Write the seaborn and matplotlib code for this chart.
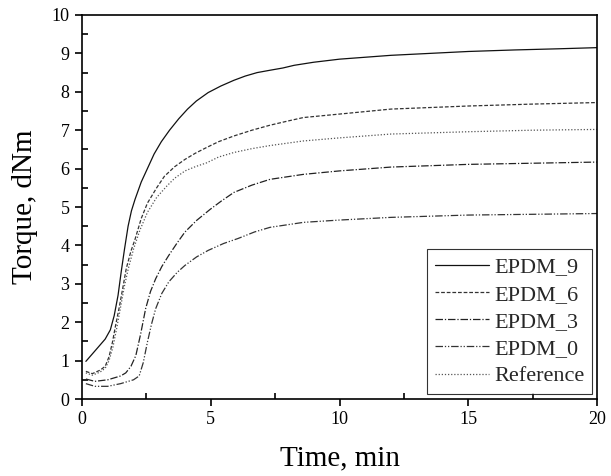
import numpy as np
import pandas as pd
import matplotlib
matplotlib.use("Agg")
import matplotlib.pyplot as plt
import seaborn as sns
from matplotlib.ticker import MultipleLocator

sns.set_theme(style="white")
plt.rcParams['font.family'] = ['Liberation Serif', 'DejaVu Serif']

t9 = [0.15, 0.5, 0.9, 1.1, 1.25, 1.4, 1.52, 1.65, 1.79, 1.92, 2.06, 2.3, 2.54, 2.8, 3.08, 3.4, 3.76, 4.1, 4.44, 4.9, 5.39, 5.9, 6.34, 6.8, 7.29, 7.8, 8.24, 9.0, 10.0, 11.0, 12.0, 13.5, 15.0, 16.8, 18.5, 20.0]
y9 = [0.98, 1.25, 1.56, 1.8, 2.17, 2.7, 3.3, 3.9, 4.5, 4.9, 5.2, 5.65, 6.0, 6.38, 6.7, 7.0, 7.3, 7.55, 7.76, 7.98, 8.15, 8.3, 8.41, 8.5, 8.56, 8.62, 8.69, 8.77, 8.85, 8.9, 8.95, 9.0, 9.05, 9.09, 9.12, 9.15]

t6 = [0.15, 0.4, 0.7, 0.9, 1.05, 1.18, 1.3, 1.45, 1.6, 1.72, 1.9, 2.06, 2.3, 2.54, 2.9, 3.2, 3.6, 4.0, 4.4, 4.84, 5.3, 5.9, 6.6, 7.3, 8.0, 8.6, 10.0, 12.0, 15.0, 17.5, 20.0]
y6 = [0.72, 0.66, 0.75, 0.85, 1.1, 1.47, 1.9, 2.4, 2.95, 3.4, 3.85, 4.16, 4.7, 5.1, 5.5, 5.8, 6.05, 6.24, 6.4, 6.55, 6.7, 6.85, 7.0, 7.13, 7.24, 7.33, 7.42, 7.55, 7.63, 7.68, 7.72]

tr = [0.15, 0.4, 0.7, 0.9, 1.05, 1.2, 1.35, 1.5, 1.65, 1.8, 2.0, 2.25, 2.54, 2.9, 3.3, 3.6, 4.0, 4.4, 4.84, 5.3, 5.9, 6.6, 7.3, 8.6, 10.0, 12.0, 15.0, 17.5, 20.0]
yr = [0.68, 0.62, 0.7, 0.8, 1.0, 1.35, 1.85, 2.4, 2.95, 3.4, 3.9, 4.4, 4.86, 5.25, 5.55, 5.75, 5.94, 6.05, 6.15, 6.3, 6.42, 6.52, 6.6, 6.72, 6.8, 6.9, 6.96, 7.0, 7.02]

t3 = [0.15, 0.5, 1.0, 1.5, 1.7, 1.9, 2.09, 2.28, 2.47, 2.66, 2.86, 3.1, 3.37, 3.7, 4.0, 4.45, 4.98, 5.4, 5.9, 6.6, 7.3, 8.6, 10.0, 12.0, 15.0, 17.5, 20.0]
y3 = [0.52, 0.46, 0.5, 0.6, 0.68, 0.85, 1.13, 1.7, 2.35, 2.8, 3.13, 3.45, 3.74, 4.07, 4.35, 4.65, 4.94, 5.15, 5.38, 5.57, 5.72, 5.85, 5.94, 6.04, 6.11, 6.14, 6.17]

t0 = [0.15, 0.5, 1.0, 1.5, 2.0, 2.22, 2.38, 2.54, 2.7, 2.86, 3.1, 3.37, 3.7, 4.0, 4.45, 4.9, 5.5, 6.06, 6.7, 7.3, 8.6, 10.0, 12.0, 15.0, 17.5, 20.0]
y0 = [0.4, 0.33, 0.33, 0.4, 0.5, 0.6, 0.95, 1.48, 1.95, 2.35, 2.75, 3.05, 3.3, 3.48, 3.7, 3.87, 4.05, 4.18, 4.35, 4.47, 4.6, 4.66, 4.73, 4.79, 4.81, 4.83]

names = ["EPDM_9", "EPDM_6", "EPDM_3", "EPDM_0", "Reference"]
series = {"EPDM_9": (t9, y9), "EPDM_6": (t6, y6), "EPDM_3": (t3, y3),
          "EPDM_0": (t0, y0), "Reference": (tr, yr)}

df = pd.concat([pd.DataFrame({"time": s[0], "torque": s[1], "sample": n})
                for n, s in series.items()], ignore_index=True)

dashes = {"EPDM_9": "", "EPDM_6": (3, 1.5), "EPDM_3": (6, 1.5, 1, 1.5),
          "EPDM_0": (6, 1.5, 1, 1.5, 1, 1.5), "Reference": (1, 1.5)}
palette = {"EPDM_9": "#111111", "EPDM_6": "#333333", "EPDM_3": "#222222",
           "EPDM_0": "#333333", "Reference": "#555555"}

fig = plt.figure(figsize=(6.11, 4.76), dpi=100)
ax = fig.add_axes([82/611, 1 - 399/476, (597-82)/611, (399-15)/476])

sns.lineplot(data=df, x="time", y="torque", hue="sample", style="sample",
             hue_order=names, style_order=names, dashes=dashes, palette=palette,
             linewidth=0.9, ax=ax, sort=True, estimator=None)

ax.set_xlim(0, 20)
ax.set_ylim(0, 10)
ax.xaxis.set_major_locator(MultipleLocator(5))
ax.xaxis.set_minor_locator(MultipleLocator(2.5))
ax.yaxis.set_major_locator(MultipleLocator(1))
ax.yaxis.set_minor_locator(MultipleLocator(0.5))
ax.tick_params(which="major", direction="out", length=5, width=1.2, labelsize=13,
               pad=4, bottom=True, left=True, top=False, right=False, colors="black")
ax.tick_params(which="minor", direction="in", length=4, width=1.2,
               bottom=True, left=True, top=False, right=False, colors="black")
for sp in ax.spines.values():
    sp.set_color("black")
    sp.set_linewidth(1.2)

ax.set_xlabel("Time, min", fontsize=21, labelpad=12, color="black")
ax.set_ylabel("Torque, dNm", fontsize=21, labelpad=10, color="black")

leg = ax.legend(loc="lower right", bbox_to_anchor=(1.0, 0.0), fontsize=16,
                frameon=True, fancybox=False, edgecolor="black",
                handlelength=2.4, labelspacing=0.3, borderpad=0.35,
                handletextpad=0.25, borderaxespad=0.22)
leg.get_frame().set_linewidth(0.8)

fig.savefig("out.png", dpi=100)
